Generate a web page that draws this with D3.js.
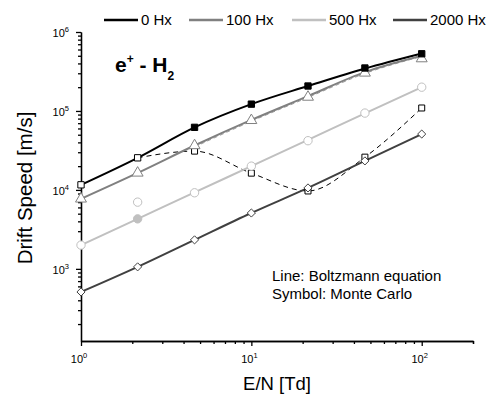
<!DOCTYPE html>
<html>
<head>
<meta charset="utf-8">
<script src="https://cdn.jsdelivr.net/npm/d3@7"></script>
<style>
  body { margin: 0; background: #fff; }
  text { font-family: "Liberation Sans", Arial, sans-serif; fill: #000; }
  .axis path, .axis line { stroke: #000; stroke-width: 1.3; }
</style>
</head>
<body>
<div id="chart"></div>
<script>
// data: E/N values (Td) and drift speeds (m/s)
const en = [1, 2.15, 4.64, 10, 21.5, 46.4, 100]

// Boltzmann lines
const be0 = [11600, 25500, 62000, 122000, 207000, 345000, 535000]
const be100 = [7700, 16400, 36500, 77000, 154000, 310000, 500000]
const be500 = [2000, 4300, 9300, 20000, 43000, 93000, 200000]
const be2000 = [510, 1060, 2330, 5100, 10600, 23300, 51000]

// dashed gray line running under 100 Hx
const en100d = [4.64, 10, 21.5, 46.4, 100]
const be100d = [35000, 74000, 148000, 298000, 490000]

// Monte Carlo symbols
const mc0open = [[1, 11600], [2.15, 25500]]
const mc0fill = [[4.64, 62000], [10, 122000], [21.5, 207000], [46.4, 350000], [100, 530000]]
const mc100 = [[1, 7700], [2.15, 16400], [4.64, 36500], [10, 76000], [21.5, 150000], [46.4, 303000], [100, 460000]]
const mc500 = [[1, 2000], [2.15, 7000], [4.64, 9200], [10, 20000], [21.5, 42000], [46.4, 94000], [100, 200000]]
const mc500fill = [[2.15, 4300]]
const mc2000 = [[1, 510], [2.15, 1060], [4.64, 2330], [10, 5100], [21.5, 10600], [46.4, 23300], [100, 51000]]

// dashed black curve with open squares
const enDash = [2.15, 4.64, 10, 21.5, 46.4, 100]
const vDash = [25500, 31000, 16300, 9700, 26000, 109000]

const legendNames = ["0 Hx", "100 Hx", "500 Hx", "2000 Hx"]
const legendColors = ["#000000", "#808080", "#c0c0c0", "#404040"]

const width = 493, height = 394

const svg = d3.select("#chart")
  .append("svg")
    .attr("width", width)
    .attr("height", height)

const x = d3.scaleLog().domain([1, 200]).range([81, 473])
const y = d3.scaleLog().domain([122, 1e6]).range([341, 32])

// ticks
const xMajor = [1, 10, 100]
const xMinor = []
;[1, 10, 100].forEach(function(d) {
  for (let k = 2; k <= 9; k++) if (d * k <= 200) xMinor.push(d * k)
})
xMinor.push(200)
const yMajor = [1e3, 1e4, 1e5, 1e6]
const yMinor = []
;[100, 1e3, 1e4, 1e5].forEach(function(d) {
  for (let k = 2; k <= 9; k++) if (d * k >= 122) yMinor.push(d * k)
})

svg.append("g")
    .attr("class", "axis")
    .attr("transform", "translate(0,341)")
    .call(d3.axisBottom(x).tickValues(xMinor).tickSize(3).tickSizeOuter(0).tickFormat(""))
svg.append("g")
    .attr("class", "axis")
    .attr("transform", "translate(0,341)")
    .call(d3.axisBottom(x).tickValues(xMajor).tickSize(5).tickSizeOuter(0).tickFormat(""))
svg.append("g")
    .attr("class", "axis")
    .attr("transform", "translate(81,0)")
    .call(d3.axisLeft(y).tickValues(yMinor).tickSize(3).tickSizeOuter(0).tickFormat(""))
svg.append("g")
    .attr("class", "axis")
    .attr("transform", "translate(81,0)")
    .call(d3.axisLeft(y).tickValues(yMajor).tickSize(5).tickSizeOuter(0).tickFormat(""))

// tick labels with superscript exponent
xMajor.forEach(function(d) {
  const t = svg.append("text")
      .attr("x", x(d) - 2)
      .attr("y", 363)
      .attr("text-anchor", "middle")
      .style("font-size", "11px")
  t.append("tspan").text("10")
  t.append("tspan").attr("dy", -5).style("font-size", "7.5px").text(Math.round(Math.log10(d)))
})
yMajor.forEach(function(d) {
  const t = svg.append("text")
      .attr("x", 69)
      .attr("y", y(d) + 5)
      .attr("text-anchor", "end")
      .style("font-size", "11px")
  t.append("tspan").text("10")
  t.append("tspan").attr("dy", -5).style("font-size", "7.5px").text(Math.round(Math.log10(d)))
})

// axis titles
svg.append("text")
    .attr("x", 277)
    .attr("y", 390)
    .attr("text-anchor", "middle")
    .style("font-size", "18.5px")
    .text("E/N [Td]")
svg.append("text")
    .attr("transform", "translate(32,188) rotate(-90)")
    .attr("text-anchor", "middle")
    .style("font-size", "20.5px")
    .text("Drift Speed [m/s]")

// line generator
const line = d3.line()
    .x(d => x(d[0]))
    .y(d => y(d[1]))
    .curve(d3.curveMonotoneX)

const zip = (xs, ys) => xs.map((d, i) => [d, ys[i]])

// dashed curves
svg.append("path")
    .datum(zip(en100d, be100d))
    .attr("d", line)
    .attr("fill", "none")
    .attr("stroke", "#a0a0a0")
    .attr("stroke-width", 1)
    .attr("stroke-dasharray", "4,3")
svg.append("path")
    .datum(zip(enDash, vDash))
    .attr("d", line)
    .attr("fill", "none")
    .attr("stroke", "#000")
    .attr("stroke-width", 1)
    .attr("stroke-dasharray", "5,4")

// Boltzmann lines
const beSeries = [be0, be100, be500, be2000]
beSeries.forEach(function(s, i) {
  svg.append("path")
      .datum(zip(en, s))
      .attr("d", line)
      .attr("fill", "none")
      .attr("stroke", legendColors[i])
      .attr("stroke-width", 2)
})

// symbols
function symbols(data, type, size, fill, stroke) {
  svg.append("g")
    .selectAll("path")
    .data(data)
    .join("path")
      .attr("transform", d => `translate(${x(d[0])},${y(d[1])})`)
      .attr("d", d3.symbol().type(type).size(size))
      .attr("fill", fill)
      .attr("stroke", stroke)
      .attr("stroke-width", 1)
}

const diamond = {
  draw: function(ctx, size) {
    const r = Math.sqrt(size) / 2 * 1.15
    ctx.moveTo(0, -r); ctx.lineTo(r, 0); ctx.lineTo(0, r); ctx.lineTo(-r, 0); ctx.closePath()
  }
}

symbols(zip(enDash, vDash).slice(1), d3.symbolSquare, 36, "#fff", "#000")
symbols(mc2000, diamond, 50, "#fff", "#404040")
symbols(mc500, d3.symbolCircle, 55, "#fff", "#c0c0c0")
symbols(mc500fill, d3.symbolCircle, 55, "#c0c0c0", "#c0c0c0")
symbols(mc100, d3.symbolTriangle, 52, "#fff", "#808080")
symbols(mc0open, d3.symbolSquare, 40, "#fff", "#000")
symbols(mc0fill, d3.symbolSquare, 40, "#000", "#000")

// title
const title = svg.append("text")
    .attr("x", 115)
    .attr("y", 72)
    .style("font-size", "21px")
    .style("font-weight", "bold")
title.append("tspan").text("e")
title.append("tspan").attr("dy", -9).style("font-size", "12px").text("+")
title.append("tspan").attr("dy", 9).text(" - H")
title.append("tspan").attr("dy", 8).style("font-size", "12px").text("2")

// legend
const legendX = [104, 189, 292, 393]
legendNames.forEach(function(n, i) {
  svg.append("line")
      .attr("x1", legendX[i])
      .attr("x2", legendX[i] + 34)
      .attr("y1", 20)
      .attr("y2", 20)
      .attr("stroke", legendColors[i])
      .attr("stroke-width", 2.5)
  svg.append("text")
      .attr("x", legendX[i] + 37)
      .attr("y", 25)
      .style("font-size", "15px")
      .text(n)
})

// note
svg.append("text")
    .attr("x", 272)
    .attr("y", 281)
    .style("font-size", "15px")
    .text("Line: Boltzmann equation")
svg.append("text")
    .attr("x", 272)
    .attr("y", 299)
    .style("font-size", "15px")
    .text("Symbol: Monte Carlo")
</script>
</body>
</html>
